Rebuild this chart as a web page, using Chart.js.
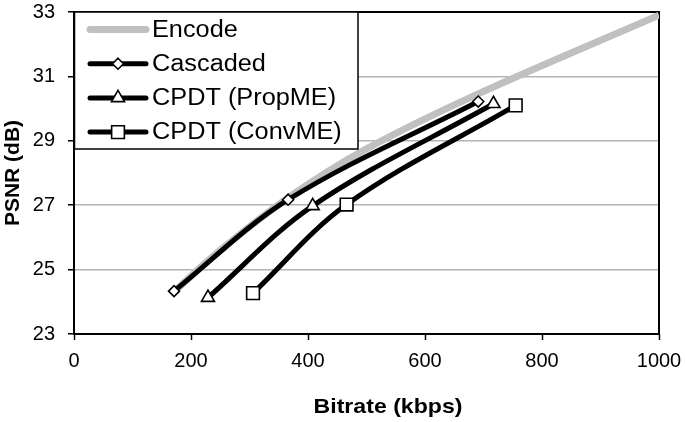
<!DOCTYPE html>
<html><head><meta charset="utf-8">
<script src="https://cdn.jsdelivr.net/npm/chart.js@4"></script>
<style>html,body{margin:0;padding:0;background:#fff}#w{width:685px;height:422px;position:relative}</style>
</head><body><div id="w"><canvas id="c"></canvas></div>
<script>
const seriesNames = ['Encode', 'Cascaded', 'CPDT (PropME)', 'CPDT (ConvME)'];
const encodeX = [173, 250, 370, 500, 690, 1000];
const encodeY = [24.35, 25.6, 27.28, 28.75, 30.45, 32.9];
const cascadedX = [171, 366, 691];
const cascadedY = [24.33, 27.17, 30.22];
const propX = [229, 408, 717];
const propY = [24.13, 26.98, 30.15];
const convX = [306, 466, 755];
const convY = [24.27, 27.02, 30.1];
const xTicks = [0, 200, 400, 600, 800, 1000];
const yTicks = [23, 25, 27, 29, 31, 33];
const xTitle = 'Bitrate (kbps)';
const yTitle = 'PSNR (dB)';

const FONT = '"Liberation Sans", Arial, sans-serif';
const pts = (xs, ys) => xs.map((x, i) => ({x: x, y: ys[i]}));

function drawMarker(ctx, style, x, y, r) {
  ctx.beginPath();
  if (style === 'rectRot') {
    ctx.moveTo(x, y - r); ctx.lineTo(x + r, y); ctx.lineTo(x, y + r); ctx.lineTo(x - r, y); ctx.closePath();
  } else if (style === 'triangle') {
    for (let k = 0; k < 3; k++) {
      const a = k * 2 * Math.PI / 3;
      const px = x + Math.sin(a) * r, py = y - Math.cos(a) * r;
      if (k === 0) ctx.moveTo(px, py); else ctx.lineTo(px, py);
    }
    ctx.closePath();
  } else if (style === 'rect') {
    const s = r * Math.SQRT1_2;
    ctx.rect(x - s, y - s, 2 * s, 2 * s);
  }
  ctx.fillStyle = '#fff'; ctx.fill();
  ctx.strokeStyle = '#000'; ctx.lineWidth = 1.6; ctx.stroke();
}

function stretchedText(ctx, text, x, y, sx, align) {
  ctx.save();
  ctx.translate(x, y);
  ctx.scale(sx, 1);
  ctx.textAlign = align;
  ctx.fillText(text, 0, 0);
  ctx.restore();
}

const framePlugin = {
  id: 'frame',
  beforeDatasetsDraw(chart) {
    const {ctx, chartArea: a} = chart;
    ctx.save();
    ctx.strokeStyle = '#000'; ctx.lineWidth = 2;
    ctx.strokeRect(a.left, a.top, a.right - a.left, a.bottom - a.top);
    ctx.restore();
  },
  afterDraw(chart) {
    const {ctx, chartArea: a} = chart;
    ctx.save();
    ctx.fillStyle = '#000';
    ctx.font = 'bold 21px ' + FONT;
    ctx.textBaseline = 'middle';
    stretchedText(ctx, xTitle, 388, 407, 1.1, 'center');
    const x0 = a.left, y0 = a.top, x1 = 358, y1 = 149;
    ctx.fillStyle = '#fff';
    ctx.fillRect(x0, y0, x1 - x0, y1 - y0);
    ctx.strokeStyle = '#000'; ctx.lineWidth = 1.5;
    ctx.strokeRect(x0 + 0.5, y0, x1 - x0 - 0.5, y1 - y0);
    chart.data.datasets.forEach((ds, i) => {
      const cy = 29.5 + i * 34.2;
      ctx.strokeStyle = ds.borderColor; ctx.lineWidth = ds.borderWidth;
      ctx.lineCap = 'round';
      ctx.beginPath(); ctx.moveTo(90, cy); ctx.lineTo(146, cy); ctx.stroke();
      if (ds.pointRadius > 0) drawMarker(ctx, ds.pointStyle, 118, cy, ds.pointRadius);
      ctx.fillStyle = '#000';
      ctx.font = '23px ' + FONT;
      ctx.textBaseline = 'middle';
      stretchedText(ctx, ds.label, 152, cy + 1, 1.1, 'left');
    });
    ctx.restore();
  }
};

const lineDs = (label, data, style, radius) => ({
  label: label, data: data, showLine: true,
  borderColor: '#000', borderWidth: 5, tension: 0.35,
  pointStyle: style, pointRadius: radius, pointHoverRadius: radius,
  pointBackgroundColor: '#fff', pointBorderColor: '#000', pointBorderWidth: 1.6,
  order: 0
});

const zeroPad = s => { s.paddingTop = 0; s.paddingBottom = 0; s.paddingLeft = 0; s.paddingRight = 0; };

new Chart(document.getElementById('c'), {
  type: 'scatter',
  data: {
    datasets: [
      {label: seriesNames[0], data: pts(encodeX, encodeY), showLine: true,
       borderColor: '#c0c0c0', borderWidth: 7, tension: 0.35, pointRadius: 0, order: 1,
       borderCapStyle: 'butt'},
      lineDs(seriesNames[1], pts(cascadedX, cascadedY), 'rectRot', 5.5),
      lineDs(seriesNames[2], pts(propX, propY), 'triangle', 7.5),
      lineDs(seriesNames[3], pts(convX, convY), 'rect', 9)
    ]
  },
  options: {
    responsive: true, maintainAspectRatio: false, animation: false,
    layout: {padding: {left: 0, right: 26, top: 12, bottom: 0}},
    plugins: {legend: {display: false}, tooltip: {enabled: false}},
    scales: {
      x: {
        type: 'linear', min: 0, max: 1000,
        afterBuildTicks: s => { s.ticks = xTicks.map(v => ({value: v})); },
        afterFit: s => { s.height = 88; zeroPad(s); },
        border: {display: false},
        grid: {drawOnChartArea: false, drawTicks: true, tickLength: 6, tickColor: '#000', tickWidth: 1.5},
        ticks: {color: '#000', font: {family: FONT, size: 20}, padding: 9, maxRotation: 0, callback: v => String(v)}
      },
      y: {
        type: 'linear', min: 23, max: 33,
        afterBuildTicks: s => { s.ticks = yTicks.map(v => ({value: v})); },
        afterFit: s => { s.width = 74; zeroPad(s); },
        border: {display: false},
        grid: {color: '#b4b4b4', lineWidth: 1.5, drawTicks: true, tickLength: 6, tickColor: '#000', tickWidth: 1.5},
        ticks: {color: '#000', font: {family: FONT, size: 20}, padding: 13, callback: v => String(v)},
        title: {display: true, text: yTitle, color: '#000', font: {family: FONT, size: 21, weight: 'bold'}, padding: {top: 1, bottom: 0}}
      }
    }
  },
  plugins: [framePlugin]
});
</script>
</body></html>
